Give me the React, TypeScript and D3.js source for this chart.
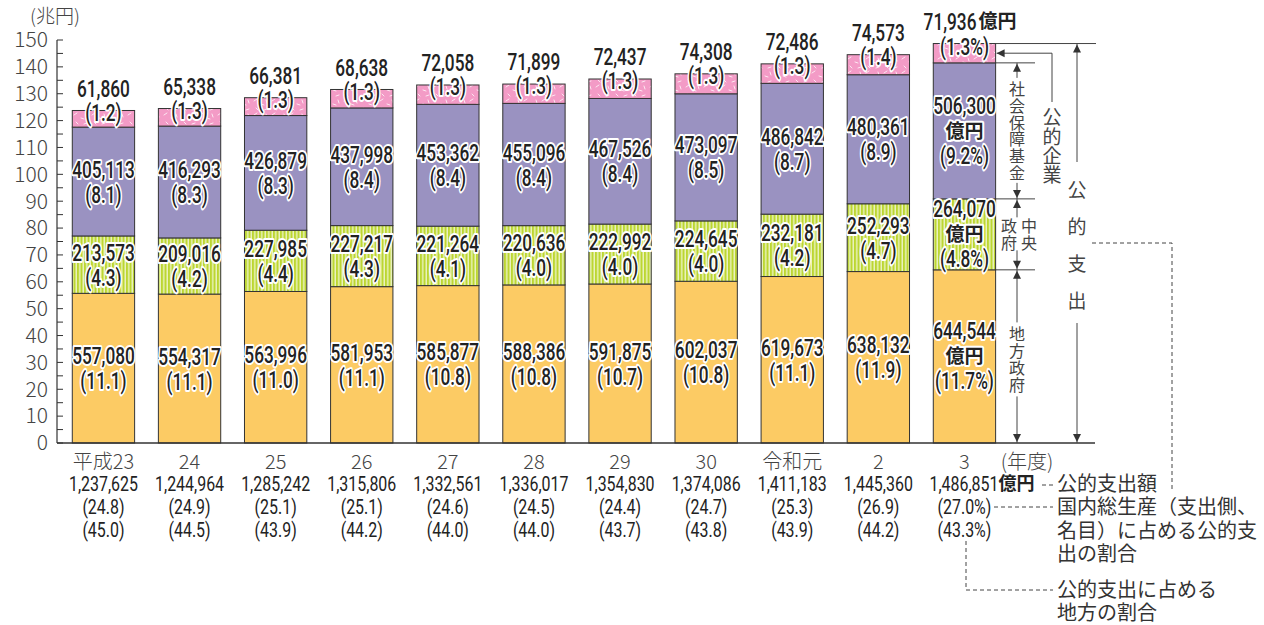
import React from "react";
import * as d3 from "d3";

const years = ["平成23", "24", "25", "26", "27", "28", "29", "30", "令和元", "2", "3"];
const localGov = [557080, 554317, 563996, 581953, 585877, 588386, 591875, 602037, 619673, 638132, 644544];
const localPct = [11.1, 11.1, 11.0, 11.1, 10.8, 10.8, 10.7, 10.8, 11.1, 11.9, 11.7];
const centralGov = [213573, 209016, 227985, 227217, 221264, 220636, 222992, 224645, 232181, 252293, 264070];
const centralPct = [4.3, 4.2, 4.4, 4.3, 4.1, 4.0, 4.0, 4.0, 4.2, 4.7, 4.8];
const socialFund = [405113, 416293, 426879, 437998, 453362, 455096, 467526, 473097, 486842, 480361, 506300];
const socialPct = [8.1, 8.3, 8.3, 8.4, 8.4, 8.4, 8.4, 8.5, 8.7, 8.9, 9.2];
const publicEnt = [61860, 65338, 66381, 68638, 72058, 71899, 72437, 74308, 72486, 74573, 71936];
const entPct = [1.2, 1.3, 1.3, 1.3, 1.3, 1.3, 1.3, 1.3, 1.3, 1.4, 1.3];
const totals = [1237625, 1244964, 1285242, 1315806, 1332561, 1336017, 1354830, 1374086, 1411183, 1445360, 1486851];
const gdpShare = [24.8, 24.9, 25.1, 25.1, 24.6, 24.5, 24.4, 24.7, 25.3, 26.9, 27.0];
const localShare = [45.0, 44.5, 43.9, 44.2, 44.0, 44.0, 43.7, 43.8, 43.9, 44.2, 43.3];
const yTicks = d3.range(0, 151, 5);

const keys = ["local", "central", "social", "ent"];
const colors: Record<string, string> = {
  local: "#FCCB64",
  central: "url(#greenStripe)",
  social: "#9A92C1",
  ent: "url(#pinkPat)",
};

const NUM_FONT = "Roboto, 'Noto Sans', sans-serif";
const JP_FONT = "'Noto Sans CJK JP', 'Noto Sans', sans-serif";
const UNIT = "億円";

// multi-line condensed number label
function Label({ x, y, lines, step = 25, size = 23, sx = 0.75, weight = 500, halo = true, anchor = "middle", offsets = [] as number[] }: any) {
  return (
    <text
      transform={`translate(${x},${y}) scale(${sx},1)`}
      textAnchor={anchor}
      fontFamily={NUM_FONT}
      fontSize={size}
      fontWeight={weight}
      fill="#222"
      stroke={halo ? "#fff" : "none"}
      strokeWidth={halo ? 4 : 0}
      strokeLinejoin="round"
      paintOrder="stroke"
    >
      {lines.map((ln: string, i: number) => (
        <tspan key={i} x={(offsets[i] || 0) / sx} y={i * step} dy="0.35em">
          {ln}
        </tspan>
      ))}
    </text>
  );
}

function JText({ x, y, text, size = 20, weight = 400, anchor = "start", fill = "#333", halo = false }: any) {
  return (
    <text
      x={x}
      y={y}
      dy="0.35em"
      textAnchor={anchor}
      fontFamily={JP_FONT}
      fontSize={size}
      fontWeight={weight}
      fill={fill}
      stroke={halo ? "#fff" : "none"}
      strokeWidth={halo ? 4 : 0}
      strokeLinejoin="round"
      paintOrder="stroke"
    >
      {text}
    </text>
  );
}

function Para({ x, ys, lines }: { x: number; ys: number[]; lines: string[] }) {
  return (
    <text fontFamily={JP_FONT} fontSize={20} fill="#333">
      {lines.map((l, i) => (
        <tspan key={i} x={x} y={ys[i]} dy="0.35em">
          {l}
        </tspan>
      ))}
    </text>
  );
}

function Arrow({ x, y, dir }: { x: number; y: number; dir: string }) {
  const s = 4, l = 8;
  let d = "";
  if (dir === "up") d = `M${x},${y} L${x - s},${y + l} L${x + s},${y + l} Z`;
  if (dir === "down") d = `M${x},${y} L${x - s},${y - l} L${x + s},${y - l} Z`;
  if (dir === "left") d = `M${x},${y} L${x + l},${y - s} L${x + l},${y + s} Z`;
  return <path d={d} fill="#333" />;
}

function VText({ x, cy, chars, step, size, fill = "#444" }: any) {
  const n = chars.length;
  const spacing = step - size;
  const top = cy - (n * step - spacing) / 2;
  return (
    <text
      x={x}
      y={top}
      style={{ writingMode: "vertical-rl" as any, letterSpacing: `${spacing}px` }}
      fontFamily={JP_FONT}
      fontSize={size}
      fill={fill}
    >
      {chars}
    </text>
  );
}

export default function App() {
  const table = years.map((yr, i) => ({
    year: yr,
    local: localGov[i] / 10000,
    central: centralGov[i] / 10000,
    social: socialFund[i] / 10000,
    ent: publicEnt[i] / 10000,
  }));
  const series = d3.stack<any>().keys(keys)(table);

  const x = d3.scaleBand<string>().domain(years).range([60.4, 1007.5]).paddingInner(0.276).paddingOuter(0.138);
  const y = d3.scaleLinear().domain([0, 150]).range([443, 40]);
  const bw = x.bandwidth();
  const axisX = 57;
  const fmt = d3.format(",");

  const rawVals: Record<string, number[]> = { local: localGov, central: centralGov, social: socialFund, ent: publicEnt };
  const pcts: Record<string, number[]> = { local: localPct, central: centralPct, social: socialPct, ent: entPct };

  const last = years.length - 1;
  const lastX = x(years[last])!;
  const bRight = lastX + bw;
  const lastSeg = (k: string) => series.find((s) => s.key === k)![last];
  const segC = lastSeg("central"), segS = lastSeg("social"), segE = lastSeg("ent");
  const yTop = y(segE[1]), yEntBot = y(segE[0]), ySocBot = y(segS[0]), yCenBot = y(segC[0]), yBase = y(0);
  const arrowX = 1017;
  const entX = 1052;
  const pubX = 1077;
  const lc = "#444";

  return (
    <svg width={1264} height={625} style={{ position: "absolute", left: 0, top: 0, background: "#fff" }}>
      <defs>
        <pattern id="greenStripe" width={3.5} height={10} patternUnits="userSpaceOnUse">
          <rect width={3.5} height={10} fill="#BCD631" />
          <rect x={2.2} width={1.1} height={10} fill="#fff" opacity={0.9} />
        </pattern>
        <pattern id="pinkPat" width={18} height={14} patternUnits="userSpaceOnUse">
          <rect width={18} height={14} fill="#F39BC6" />
          <g stroke="#fff" strokeWidth={1} opacity={0.75} strokeLinecap="round">
            <line x1={2} y1={3} x2={5} y2={1} />
            <line x1={9} y1={6} x2={12} y2={7} />
            <line x1={14} y1={2} x2={15} y2={5} />
            <line x1={4} y1={10} x2={6} y2={12} />
            <line x1={12} y1={12} x2={15} y2={11} />
          </g>
        </pattern>
      </defs>

      <JText x={30} y={16} text="(兆円)" size={19} weight={300} fill="#444" />

      {/* y axis */}
      <line x1={axisX} x2={axisX} y1={y(150)} y2={y(0)} stroke="#333" strokeWidth={1.2} />
      {yTicks.map((t) => (
        <g key={t}>
          <line x1={axisX} x2={axisX + 6} y1={y(t)} y2={y(t)} stroke="#333" strokeWidth={1} />
          {t % 10 === 0 && (
            <JText x={48} y={y(t)} text={String(t)} size={21} weight={300} anchor="end" fill="#444" />
          )}
        </g>
      ))}

      {/* bars */}
      {series.map((s) => (
        <g key={s.key}>
          {s.map((d, i) => (
            <rect
              key={i}
              x={x(years[i])}
              y={y(d[1])}
              width={bw}
              height={y(d[0]) - y(d[1])}
              fill={colors[s.key]}
              stroke="#333"
              strokeWidth={1}
            />
          ))}
        </g>
      ))}

      <line x1={axisX} x2={1095} y1={y(0)} y2={y(0)} stroke="#333" strokeWidth={1.3} />

      {/* in-bar labels */}
      {series.map((s) =>
        s.map((d, i) => {
          const cx = x(years[i])! + bw / 2;
          const val = fmt(rawVals[s.key][i]);
          const p = pcts[s.key][i].toFixed(1);
          const isLast = i === last;
          if (s.key === "ent") {
            const top = y(d[1]);
            if (isLast) {
              return (
                <g key={s.key + i}>
                  <Label x={cx + 12} y={top - 22} lines={[val]} anchor="end" />
                  <JText x={cx + 14} y={top - 22} text={UNIT} size={19} weight={700} fill="#222" halo />
                  <Label x={cx} y={top + 3} lines={[`(${p}%)`]} />
                </g>
              );
            }
            return <Label key={s.key + i} x={cx} y={top - 22} lines={[val, `(${p})`]} step={24} />;
          }
          const mid = (y(d[0]) + y(d[1])) / 2;
          if (isLast) {
            return (
              <g key={s.key + i}>
                <Label x={cx} y={mid - 25} lines={[val, "", `(${p}%)`]} />
                <JText x={cx} y={mid} text={UNIT} size={19} weight={700} anchor="middle" fill="#222" halo />
              </g>
            );
          }
          return <Label key={s.key + i} x={cx} y={mid - 12} lines={[val, `(${p})`]} />;
        })
      )}

      {/* bottom labels */}
      {years.map((yr, i) => {
        const cx = x(yr)! + bw / 2;
        const isLast = i === last;
        return (
          <g key={yr}>
            <JText x={cx} y={462} text={yr} size={20} weight={300} anchor="middle" fill="#444" />
            {isLast && (
              <>
                <Label x={cx + 34} y={484} lines={[fmt(totals[i])]} size={21} sx={0.76} weight={400} halo={false} anchor="end" />
                <JText x={cx + 34} y={484} text={UNIT} size={18} weight={700} fill="#222" />
              </>
            )}
            <Label
              x={cx}
              y={isLast ? 507 : 484}
              lines={
                isLast
                  ? [`(${gdpShare[i].toFixed(1)}%)`, `(${localShare[i].toFixed(1)}%)`]
                  : [fmt(totals[i]), `(${gdpShare[i].toFixed(1)})`, `(${localShare[i].toFixed(1)})`]
              }
              step={23}
              size={21}
              sx={0.76}
              weight={400}
              halo={false}
            />
          </g>
        );
      })}
      <JText x={1027} y={462} text="(年度)" size={20} weight={300} anchor="middle" fill="#444" />

      {/* right-side annotations */}
      <g stroke={lc} strokeWidth={1} fill="none">
        <line x1={bRight} x2={1096} y1={yTop} y2={yTop} />
        <line x1={bRight} x2={1035} y1={yEntBot} y2={yEntBot} />
        <line x1={bRight} x2={1035} y1={ySocBot} y2={ySocBot} />
        <line x1={bRight} x2={1035} y1={yCenBot} y2={yCenBot} />
        <line x1={arrowX} x2={arrowX} y1={yEntBot} y2={(yEntBot + ySocBot) / 2 - 53} />
        <line x1={arrowX} x2={arrowX} y1={(yEntBot + ySocBot) / 2 + 52} y2={ySocBot} />
        <line x1={arrowX} x2={arrowX} y1={ySocBot} y2={(ySocBot + yCenBot) / 2 - 17} />
        <line x1={arrowX} x2={arrowX} y1={(ySocBot + yCenBot) / 2 + 16} y2={yCenBot} />
        <line x1={arrowX} x2={arrowX} y1={yCenBot} y2={(yCenBot + yBase) / 2 + 3 - 37} />
        <line x1={arrowX} x2={arrowX} y1={(yCenBot + yBase) / 2 + 3 + 37} y2={yBase} />
        <polyline points={`${bRight + 1},${(yTop + yEntBot) / 2} ${entX},${(yTop + yEntBot) / 2} ${entX},102`} />
        <line x1={pubX} x2={pubX} y1={yTop} y2={162} />
        <line x1={pubX} x2={pubX} y1={323} y2={yBase} />
      </g>
      <Arrow x={arrowX} y={yEntBot + 1} dir="up" />
      <Arrow x={arrowX} y={ySocBot - 1} dir="down" />
      <Arrow x={arrowX} y={ySocBot + 1} dir="up" />
      <Arrow x={arrowX} y={yCenBot - 1} dir="down" />
      <Arrow x={arrowX} y={yCenBot + 1} dir="up" />
      <Arrow x={arrowX} y={yBase - 1} dir="down" />
      <Arrow x={bRight + 1} y={(yTop + yEntBot) / 2} dir="left" />
      <Arrow x={pubX} y={yTop + 1} dir="up" />
      <Arrow x={pubX} y={yBase - 1} dir="down" />

      <VText x={arrowX} cy={(yEntBot + ySocBot) / 2} chars="社会保障基金" step={16.8} size={16} />
      <VText x={1029} cy={(ySocBot + yCenBot) / 2} chars="中央" step={17} size={16} />
      <VText x={1009} cy={(ySocBot + yCenBot) / 2} chars="政府" step={17} size={16} />
      <VText x={arrowX} cy={(yCenBot + yBase) / 2 + 3} chars="地方政府" step={16.7} size={16} />
      <VText x={entX} cy={146} chars="公的企業" step={19.3} size={19} />
      <VText x={pubX} cy={245} chars="公的支出" step={37} size={19} />

      {/* dashed leaders */}
      <g stroke={lc} strokeWidth={1} fill="none" strokeDasharray="4,3">
        <polyline points={`1092,243 1172,243 1172,490`} />
        <line x1={1042} x2={1053} y1={485} y2={485} />
        <line x1={994} x2={1053} y1={507} y2={507} />
        <polyline points={`966,541 966,590 1053,590`} />
      </g>

      <Para x={1057} ys={[484, 507, 531, 554]} lines={["公的支出額", "国内総生産（支出側、", "名目）に占める公的支", "出の割合"]} />
      <Para x={1057} ys={[590, 613]} lines={["公的支出に占める", "地方の割合"]} />
    </svg>
  );
}
